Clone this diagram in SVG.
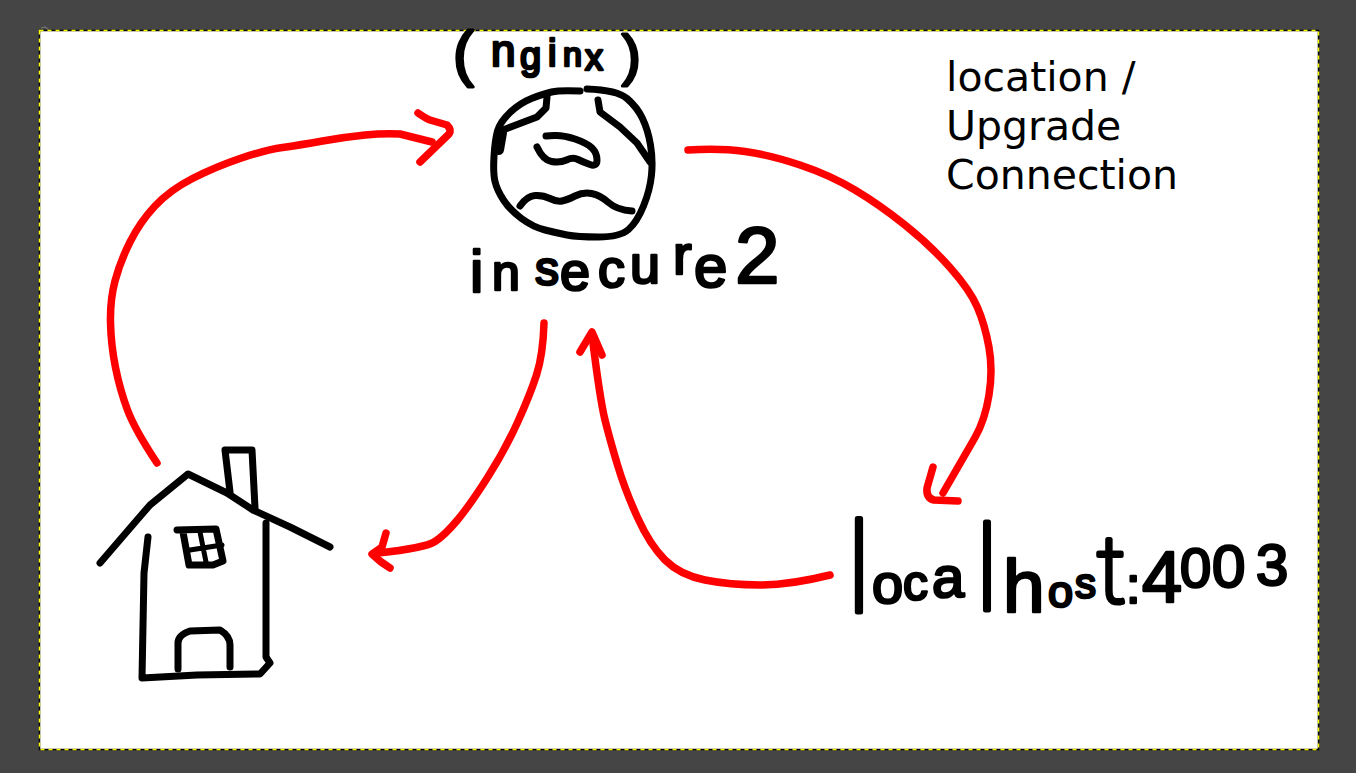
<svg xmlns="http://www.w3.org/2000/svg" width="1356" height="773" viewBox="0 0 1356 773">
<style>
.ink{fill:none;stroke:#000;stroke-width:7;stroke-linecap:round;stroke-linejoin:round}
.red{fill:none;stroke:#f00;stroke-width:7.5;stroke-linecap:round;stroke-linejoin:round}
.hand{font-family:"Liberation Sans",Arial,sans-serif;fill:#000;stroke:#000;stroke-width:2.6;stroke-linejoin:round}
.tall{font-family:Roboto,"Liberation Sans",sans-serif;font-weight:100;stroke-width:5;stroke-linecap:round}
.note{font-family:"DejaVu Sans",sans-serif;font-size:41px;fill:#000}
</style>
<rect width="1356" height="773" fill="#454545"/>
<path d="M41 28l4-1 3 2 0 3M42 33l2 1" fill="none" stroke="#777" stroke-width="1.2"/>
<rect x="40" y="31" width="1278" height="718" fill="#fff"/>
<rect x="39.5" y="30.5" width="1279" height="719" fill="none" stroke="#000" stroke-width="1.5"/>
<rect x="39.5" y="30.5" width="1279" height="719" fill="none" stroke="#ff0" stroke-width="1.5" stroke-dasharray="4 4"/>
<g id="connectors">
<g id="edge-house-nginx">
<path class="red" d="M157 463Q135 430 127.5 410Q120 390 115.5 367.5Q111 345 110.5 322.5Q110 300 115 281Q120 262 130 242Q140 222 155 206Q170 190 192.5 178.5Q215 167 240 158.5Q265 150 282.5 147.5Q300 145 322.5 141Q345 137 365 135Q385 133 400 134L432 142"/>
<path class="red" d="M418 113Q425 118 430 120L447 125Q452 130 449 134L420 162"/>
</g>
<g id="edge-nginx-localhost">
<path class="red" d="M688 150Q720 148 745 151.5Q770 155 800 165Q830 175 855 190Q880 205 905 225Q930 245 950 267.5Q970 290 977.5 307.5Q985 325 989 347.5Q993 370 989 395Q985 420 975 437.5Q965 455 943 493"/>
<path class="red" d="M933 467L927 488Q926 498 934 500L958 501"/>
</g>
<g id="edge-localhost-nginx">
<path class="red" d="M830 575Q790 585 760 585Q730 585 705 580Q680 575 665 560Q650 545 637.5 517.5Q625 490 617.5 465Q610 440 605 420Q600 400 592 335"/>
<path class="red" d="M580 352L592 332L602 355"/>
</g>
<g id="edge-nginx-house">
<path class="red" d="M544 323Q543 355 536.5 375Q530 395 517.5 422.5Q505 450 487.5 477.5Q470 505 457.5 520Q445 535 435 541.5Q425 548 378 553"/>
<path class="red" d="M386 533L382 547L372 554Q380 562 390 568"/>
</g>
</g>
<g id="node-nginx">
<path class="ink" d="M580 91Q560 90 551.5 92Q543 94 531.5 98.5Q520 103 510 112.5Q500 122 497.5 131Q495 140 494 156.5Q493 173 495 181.5Q497 190 503.5 200Q510 210 521.5 218.5Q533 227 545 230Q557 233 567 235Q577 237 598.5 237Q620 237 628.5 229.5Q637 222 643.5 206Q650 190 651.5 175Q653 160 650.5 145Q648 130 642.5 118.5Q637 107 627 98.5Q617 90 587 89"/>
<path class="ink" d="M547 97L546 108L537 117L503 130"/>
<path class="ink" style="stroke-width:10" d="M502 133L499 150"/>
<path class="ink" d="M598 100L600 112L620 127L637 143L650 162"/>
<path class="ink" d="M546 136L554 135.500Q563 135 575 139Q587 143 592 148Q597 153 597 160Q597 167 590 164.500Q583 162 578 159.500Q573 157 566.500 160Q560 163 551.500 161.500Q543 160 537 147"/>
<path class="ink" d="M520 206Q527 196 535 195.500Q543 195 550 198.500Q557 202 562 201Q567 200 575 196Q583 192 591.500 193.500Q600 195 608.500 202.500Q617 210 632 211"/>
<text class="hand"><tspan x="453" y="74" font-size="62" style="stroke-width:3">(</tspan><tspan x="491" y="66" font-size="44">n</tspan><tspan x="520" y="69" font-size="38">g</tspan><tspan x="548" y="66" font-size="38">i</tspan><tspan x="563" y="66" font-size="34">n</tspan><tspan x="585" y="70" font-size="36">x</tspan><tspan x="622" y="74" font-size="56" style="stroke-width:3">)</tspan></text>
<text class="hand"><tspan x="470" y="292" font-size="60">i</tspan><tspan x="492" y="290" font-size="50">n</tspan><tspan x="535" y="285" font-size="48">s</tspan><tspan x="560" y="290" font-size="54">e</tspan><tspan x="598" y="287" font-size="54">c</tspan><tspan x="630" y="283" font-size="54">u</tspan><tspan x="673" y="274" font-size="56">r</tspan><tspan x="694" y="287" font-size="60">e</tspan><tspan x="735" y="283" font-size="80">2</tspan></text>
</g>
<g id="node-house">
<path class="ink" d="M100 563L137 520L150 505L188 474L227 493L253 510L290 527L330 547"/>
<path class="ink" d="M230 492L225 450L252 450L255 508"/>
<path class="ink" d="M148 537L144 573L142 678L197 675L260 674L270 663L266 657L266 523"/>
<path class="ink" d="M177 530L216 529L223 561L213 565L189 565L183 532"/>
<path class="ink" style="stroke-width:5" d="M200 532L206 562M190 550L222 545"/>
<path class="ink" d="M178 669L178 643Q178 635 190 631L220 630Q230 636 230 645L230 667"/>
</g>
<g id="node-localhost">
<text class="hand"><tspan class="tall" x="846" y="612" font-size="125">l</tspan><tspan x="872" y="603" font-size="56">o</tspan><tspan x="903" y="600" font-size="50">c</tspan><tspan x="932" y="597" font-size="58">a</tspan><tspan class="tall" x="975" y="610" font-size="116">l</tspan><tspan x="1003" y="612" font-size="75">h</tspan><tspan x="1048" y="607" font-size="45">o</tspan><tspan x="1075" y="598" font-size="42">s</tspan><tspan class="tall" x="1097" y="602" font-size="92">t</tspan><tspan x="1126" y="603" font-size="52">:</tspan><tspan x="1142" y="602" font-size="72">4</tspan><tspan x="1180" y="587" font-size="56">0</tspan><tspan x="1212" y="587" font-size="60">0</tspan><tspan x="1256" y="585" font-size="58">3</tspan></text>
</g>
<g id="node-location">
<text class="note"><tspan x="946" y="91">location /</tspan><tspan x="946" y="140">Upgrade</tspan><tspan x="946" y="189">Connection</tspan></text>
</g>
</svg>
